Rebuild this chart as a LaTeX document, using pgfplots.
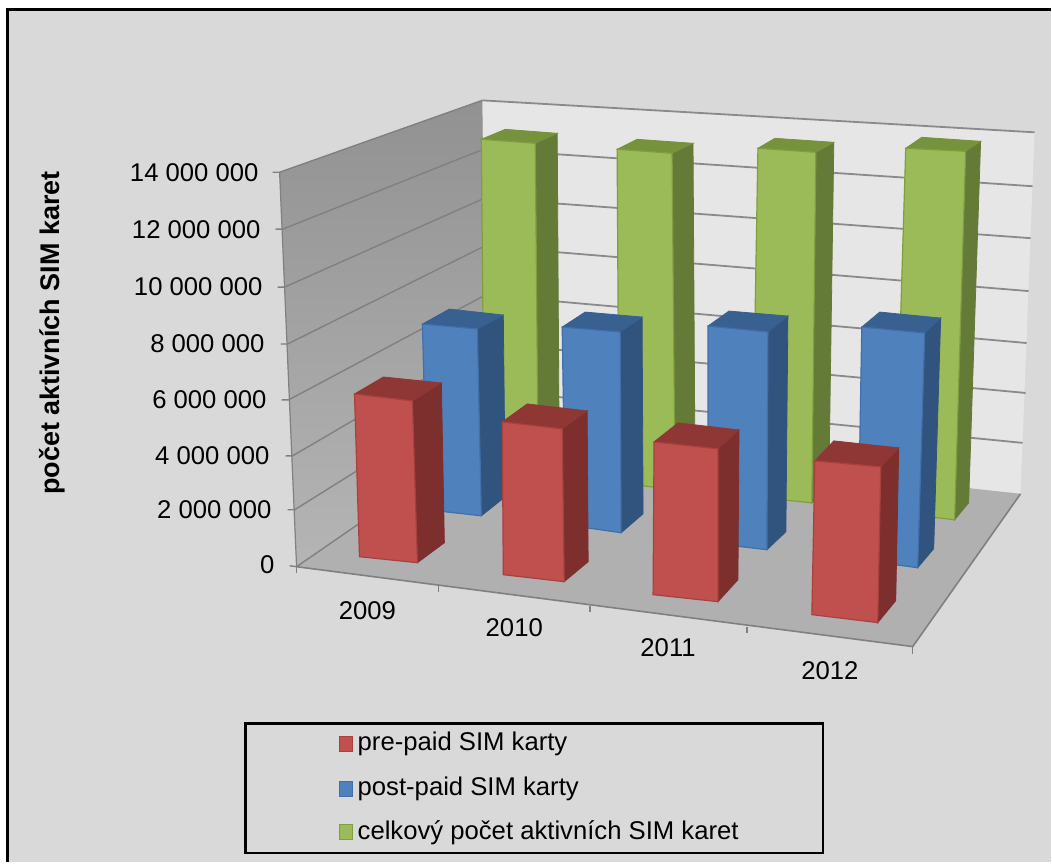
\documentclass[border=0pt]{standalone}
\usepackage{fontspec}
\setmainfont{Liberation Sans}
\usepackage{pgfplots}
\pgfplotsset{compat=1.18}

\definecolor{bg}{HTML}{D9D9D9}
\definecolor{wallback}{HTML}{E6E6E6}
\definecolor{floorc}{HTML}{B0B0B0}
\definecolor{gridc}{HTML}{8A8A8A}
\definecolor{redF}{HTML}{C0504D}
\definecolor{redT}{HTML}{8E3734}
\definecolor{redS}{HTML}{7C2F2D}
\definecolor{redE}{HTML}{A8403D}
\definecolor{bluF}{HTML}{4F81BD}
\definecolor{bluT}{HTML}{386090}
\definecolor{bluS}{HTML}{31547E}
\definecolor{bluE}{HTML}{3F70AC}
\definecolor{greF}{HTML}{9BBB59}
\definecolor{greT}{HTML}{76923C}
\definecolor{greS}{HTML}{647A37}
\definecolor{greE}{HTML}{7F9F3F}

% #1 colour prefix, then TL TR BR BL of the front, back-left, back-right, side bottom
\newcommand{\barbox}[8]{%
  \addplot[draw=#1S,line width=0.8pt,fill=#1S] coordinates {#3 #7 #8 #4} -- cycle;
  \addplot[draw=#1T,line width=0.8pt,fill=#1T] coordinates {#2 #6 #7 #3} -- cycle;
  \addplot[draw=#1E,line width=1.2pt,fill=#1F] coordinates {#2 #3 #4 #5} -- cycle;
}
\newcommand{\gridl}[2]{\addplot[gridc,line width=1.8pt] coordinates {#1 #2};}

\begin{document}
\begin{tikzpicture}
\begin{axis}[
    scale only axis,
    width=1052pt,
    height=863pt,
    xmin=-1, xmax=1051,
    ymin=-0.5, ymax=862.5,
    y dir=reverse,
    hide axis,
    clip=false,
    nodes={font=\fontsize{25.7}{30}\selectfont},
]
% page and frame
\addplot[draw=none,fill=white] coordinates {(-1,-0.5) (1051,-0.5) (1051,862.5) (-1,862.5)} -- cycle;
\addplot[draw=none,fill=bg] coordinates {(7,9) (1051,9) (1051,862.5) (7,862.5)} -- cycle;
\addplot[black,line width=3pt] coordinates {(7,862.5) (7,9) (1051,9)};

% walls and floor
\addplot[draw=none,fill=wallback] coordinates {(482,100) (1035,132) (1021,494) (486,436)} -- cycle;
\addplot[draw=none,top color=black!43,bottom color=black!29] coordinates {(279,172) (482,100) (486,436) (296,567)} -- cycle;
\addplot[draw=none,fill=floorc] coordinates {(296,567) (486,436) (1021,494) (913,647)} -- cycle;

% gridlines on the left wall and the back wall
\addplot[black!50,line width=1.4pt] coordinates {(272,172) (279,172) (482,100)};
\addplot[black!50,line width=1.4pt] coordinates {(275,229) (282,229) (483,149)};
\addplot[black!50,line width=1.4pt] coordinates {(277,287) (284,287) (484,198)};
\addplot[black!50,line width=1.4pt] coordinates {(280,344) (287,344) (484,246)};
\addplot[black!50,line width=1.4pt] coordinates {(281,400) (288,400) (485,295)};
\addplot[black!50,line width=1.4pt] coordinates {(285,456) (292,456) (485,343)};
\addplot[black!50,line width=1.4pt] coordinates {(287,510) (294,510) (486,390)};
\addplot[black!50,line width=1.2pt] coordinates {(279,172) (296,567)};
\addplot[black!50,line width=1.4pt] coordinates {(289,566) (296,567) (486,436)};
\gridl{(482,100)}{(1035,132)}
\gridl{(483,149)}{(1033,186)}
\gridl{(484,198)}{(1031,238)}
\gridl{(484,246)}{(1029,291)}
\gridl{(485,295)}{(1027,343)}
\gridl{(485,343)}{(1026,393)}
\gridl{(486,390)}{(1023,443)}

% floor outline and category ticks
\addplot[black!50,line width=1.6pt] coordinates {(296,567) (913,647) (1021,494)};
\addplot[black!50,line width=1.4pt] coordinates {(296,567) (296,573)};
\addplot[black!50,line width=1.4pt] coordinates {(438,586) (438,592)};
\addplot[black!50,line width=1.4pt] coordinates {(590,606) (590,612)};
\addplot[black!50,line width=1.4pt] coordinates {(747,627) (747,633)};
\addplot[black!50,line width=1.4pt] coordinates {(913,647) (913,654)};

% back row: total
\barbox{gre}{(481,139)}{(535,143)}{(538,475)}{(484,469)}{(505,129)}{(557,133)}{(559,460)}
\barbox{gre}{(617,149)}{(672,153)}{(675,490)}{(619,483)}{(637,139)}{(693,143)}{(695,473)}
\barbox{gre}{(758,148)}{(816,152)}{(812,503)}{(752,497)}{(775,138)}{(834,142)}{(829,483)}
\barbox{gre}{(906,148)}{(966,151)}{(955,520)}{(895,513)}{(922,137)}{(981,141)}{(969,503)}

% middle row: post-paid
\barbox{blu}{(422,324)}{(477,329)}{(481,516)}{(427,510)}{(449,309)}{(503,315)}{(505,497)}
\barbox{blu}{(562,327)}{(620,332)}{(621,533)}{(565,525)}{(585,312)}{(642,317)}{(643,514)}
\barbox{blu}{(708,326)}{(768,332)}{(767,550)}{(708,543)}{(729,311)}{(788,316)}{(786,532)}
\barbox{blu}{(862,327)}{(925,333)}{(918,568)}{(858,560)}{(880,312)}{(941,318)}{(934,549)}

% front row: pre-paid
\barbox{red}{(354,394)}{(412,401)}{(417,563)}{(359,557)}{(383,377)}{(441,383)}{(444,543)}
\barbox{red}{(502,422)}{(562,429)}{(564,582)}{(503,575)}{(527,404)}{(587,411)}{(588,562)}
\barbox{red}{(654,442)}{(718,449)}{(718,602)}{(653,595)}{(678,423)}{(739,430)}{(738,580)}
\barbox{red}{(815,461)}{(881,467)}{(878,623)}{(812,615)}{(834,441)}{(899,448)}{(896,601)}

% value axis labels
\node[anchor=east,inner sep=0pt] at (axis cs:258,172) {14 000 000};
\node[anchor=east,inner sep=0pt] at (axis cs:260,229) {12 000 000};
\node[anchor=east,inner sep=0pt] at (axis cs:262,287) {10 000 000};
\node[anchor=east,inner sep=0pt] at (axis cs:264,344) {8 000 000};
\node[anchor=east,inner sep=0pt] at (axis cs:266,400) {6 000 000};
\node[anchor=east,inner sep=0pt] at (axis cs:269,456) {4 000 000};
\node[anchor=east,inner sep=0pt] at (axis cs:271,510) {2 000 000};
\node[anchor=east,inner sep=0pt] at (axis cs:274,565) {0};
\node[rotate=90,font=\fontsize{27}{32}\selectfont\bfseries] at (axis cs:51,333) {počet aktivních SIM karet};

% category labels
\node at (axis cs:367,611) {2009};
\node at (axis cs:514,628) {2010};
\node at (axis cs:668,648) {2011};
\node at (axis cs:830,671) {2012};

% legend
\addplot[draw=black,line width=2.4pt,fill=bg] coordinates {(245,724) (823,724) (823,854) (245,854)} -- cycle;
\addplot[draw=redE,line width=1pt,fill=redF] coordinates {(339,737) (352,737) (352,752) (339,752)} -- cycle;
\addplot[draw=bluE,line width=1pt,fill=bluF] coordinates {(339,782) (352,782) (352,797) (339,797)} -- cycle;
\addplot[draw=greE,line width=1pt,fill=greF] coordinates {(339,825) (352,825) (352,840) (339,840)} -- cycle;
\node[anchor=base west,inner sep=0pt] at (axis cs:357,751) {pre-paid SIM karty};
\node[anchor=base west,inner sep=0pt] at (axis cs:357,796) {post-paid SIM karty};
\node[anchor=base west,inner sep=0pt] at (axis cs:357,840) {celkový počet aktivních SIM karet};
\end{axis}
\end{tikzpicture}
\end{document}
